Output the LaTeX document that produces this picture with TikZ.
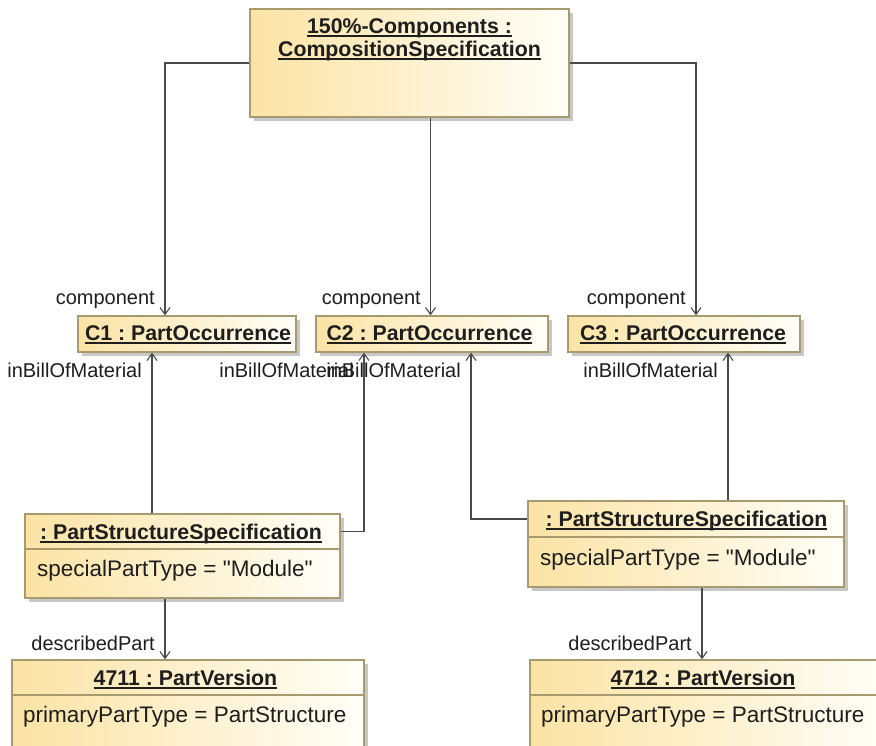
\documentclass[tikz,border=0pt]{standalone}
\usepackage{fontspec}
\setmainfont{Liberation Sans}[Ligatures=TeXOff]
\usetikzlibrary{arrows.meta,shadows}
\definecolor{boxy}{HTML}{FBE3A4}
\definecolor{boxw}{HTML}{FFFEF8}
\definecolor{boxline}{HTML}{A69A6E}
\definecolor{connc}{HTML}{4A4A4A}
\definecolor{txt}{HTML}{1E1E1E}
\newcommand{\myul}[1]{\setbox0\hbox{#1}\rlap{\color{txt}\vrule height -2.4pt depth 3.8pt width \wd0}\box0}
\frenchspacing
\tikzset{
  objbox/.style={draw=boxline, line width=1.2pt, left color=boxy, right color=boxw,
    rectangle, inner sep=0pt,
    general shadow={shadow xshift=3.5pt, shadow yshift=-3.5pt, fill=black!22}},
  conn/.style={draw=connc, line width=1.3pt, -{Straight Barb[length=7pt,width=10pt,line width=1.1pt]}},
  hdr/.style={font=\fontsize{21.3}{25}\selectfont\bfseries, text=txt, inner sep=0pt, anchor=base},
  attr/.style={font=\fontsize{22.5}{26}\selectfont, text=txt, inner sep=0pt, anchor=base west},
  lbl/.style={font=\fontsize{20}{24}\selectfont, text=txt, inner sep=0pt, anchor=base east},
}
\begin{document}
\begin{tikzpicture}[x=1pt,y=-1pt]
\clip (0,0) rectangle (876,745);
\useasboundingbox (0,0) rectangle (876,745);
\fill[white] (0,0) rectangle (876,745);

% boxes
\node[objbox, minimum width=319pt, minimum height=108pt] (top) at (409.5,63) {};
\node[objbox, minimum width=218pt, minimum height=36pt] (c1) at (187,334) {};
\node[objbox, minimum width=232pt, minimum height=36pt] (c2) at (432,334) {};
\node[objbox, minimum width=232pt, minimum height=36pt] (c3) at (684,334) {};
\node[objbox, minimum width=315pt, minimum height=35pt] (p1h) at (182.5,531.5) {};
\node[objbox, minimum width=315pt, minimum height=49pt] (p1a) at (182.5,573.5) {};
\node[objbox, minimum width=316pt, minimum height=36pt] (p2h) at (686,519) {};
\node[objbox, minimum width=316pt, minimum height=50pt] (p2a) at (686,562) {};
\node[objbox, minimum width=352pt, minimum height=35pt] (v1h) at (188,677.5) {};
\node[objbox, minimum width=352pt, minimum height=75pt] (v1a) at (188,732.5) {};
\node[objbox, minimum width=360pt, minimum height=35pt] (v2h) at (710,677.5) {};
\node[objbox, minimum width=360pt, minimum height=75pt] (v2a) at (710,732.5) {};

% texts
\node[hdr] (t1) at (409.5,33) {\myul{150\%-Components :}};
\node[hdr] (t2) at (409.5,56) {\myul{CompositionSpecification}};
\node[hdr] (c1t) at (188,340) {\myul{C1 : PartOccurrence}};
\node[hdr] (c2t) at (429.5,340) {\myul{C2 : PartOccurrence}};
\node[hdr] (c3t) at (683,340) {\myul{C3 : PartOccurrence}};
\node[hdr] (p1t) at (181,539) {\myul{: PartStructureSpecification}};
\node[attr] (p1v) at (37,576) {specialPartType = "Module"};
\node[hdr] (p2t) at (686.5,526) {\myul{: PartStructureSpecification}};
\node[attr] (p2v) at (540,565) {specialPartType = "Module"};
\node[hdr] (v1t) at (185.5,685) {\myul{4711 : PartVersion}};
\node[attr] (v1v) at (23,722) {primaryPartType = PartStructure};
\node[hdr] (v2t) at (703,685) {\myul{4712 : PartVersion}};
\node[attr] (v2v) at (541,722) {primaryPartType = PartStructure};

% connectors
\draw[conn] (top.west) -| ([xshift=-22pt]c1.north);
\draw[conn] ([xshift=21pt]top.south) -- ([xshift=-1.5pt]c2.north);
\draw[conn] (top.east) -| ([xshift=12pt]c3.north);
\draw[conn] ([xshift=-30.5pt]p1h.north) -- ([xshift=-35pt]c1.south);
\draw[conn] (p1h.east) -| ([xshift=-68pt]c2.south);
\draw[conn] (p2h.west) -| ([xshift=39pt]c2.south);
\draw[conn] ([xshift=42pt]p2h.north) -- ([xshift=44pt]c3.south);
\draw[conn] ([xshift=-17.5pt]p1a.south) -- ([xshift=-23pt]v1h.north);
\draw[conn] ([xshift=16pt]p2a.south) -- ([xshift=-8pt]v2h.north);

% labels (the two middle ones overlap, as in the reference)
\node[lbl] (l1) at (155,304) {component};
\node[lbl] (l2) at (421,304) {component};
\node[lbl] (l3) at (686,304) {component};
\node[lbl] (b1) at (142,377) {inBillOfMaterial};
\node[lbl] (b2) at (354,377) {inBillOfMaterial};
\node[lbl] (b3) at (461,377) {inBillOfMaterial};
\node[lbl] (b4) at (718,377) {inBillOfMaterial};
\node[lbl] (d1) at (155,650) {describedPart};
\node[lbl] (d2) at (692,650) {describedPart};
\end{tikzpicture}
\end{document}
